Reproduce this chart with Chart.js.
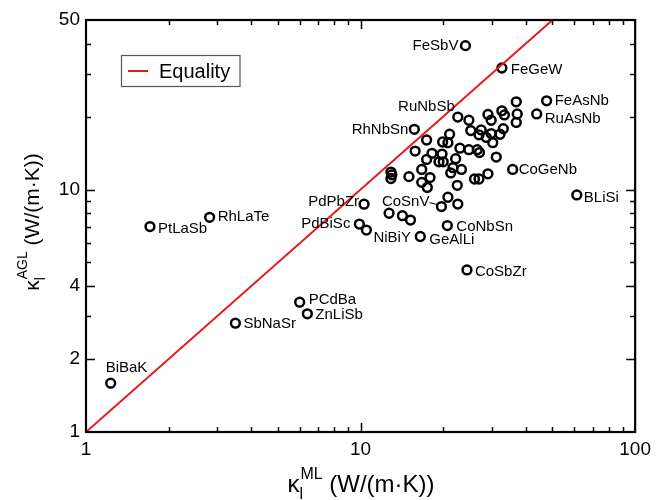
<!DOCTYPE html>
<html>
<head>
<meta charset="utf-8">
<script src="https://cdn.jsdelivr.net/npm/chart.js@4.4.0/dist/chart.umd.min.js"></script>
<style>
  html, body { margin: 0; padding: 0; background: #fff; }
  #wrap { width: 657px; height: 500px; }
</style>
</head>
<body>
<div id="wrap"><canvas id="chart" width="657" height="500"></canvas></div>
<script>
// Labelled compounds: kappa_l from ML (x) and from AGL (y), W/(m.K)
const labelNames = ['FeSbV', 'FeGeW', 'FeAsNb', 'RuAsNb', 'RuNbSb', 'RhNbSn', 'CoGeNb', 'BLiSi', 'CoSnV', 'PdPbZr', 'PdBiSc',
    'NiBiY', 'CoNbSn', 'GeAlLi', 'CoSbZr', 'PCdBa', 'ZnLiSb', 'SbNaSr', 'PtLaSb', 'RhLaTe', 'BiBaK'];
const labelML = [24.1, 32.7, 47.6, 43.8, 22.6, 15.7, 35.8, 61.3, 19.7, 10.3, 9.9,
    10.5, 20.7, 16.5, 24.4, 6.0, 6.4, 3.5, 1.71, 2.82, 1.23];
const labelAGL = [39.2, 31.7, 23.2, 20.5, 19.9, 17.7, 12.1, 9.5, 8.5, 8.7, 7.2,
    6.8, 7.1, 6.4, 4.66, 3.43, 3.07, 2.81, 7.03, 7.68, 1.59];

// Unlabelled compounds
const otherML = [36.9, 29.1, 32.7, 33.4, 37.2, 36.9, 24.8, 29.9, 33.1, 25.2, 27.5, 27.0, 29.9, 32.2, 28.7, 30.3,
    21.1, 17.4, 19.9, 20.8, 15.8, 18.2, 19.8, 23.0, 24.8, 26.6, 27.1, 31.2, 17.4, 19.3, 20.0, 22.2,
    21.7, 23.3, 21.3, 16.7, 12.9, 13.0, 12.9, 15.0, 17.9, 16.7, 17.5, 22.5, 26.0, 27.0, 29.1,
    20.8, 22.6, 12.7, 14.2, 15.2];
const otherAGL = [23.0, 20.4, 21.1, 20.3, 20.5, 18.9, 19.3, 19.3, 17.8, 17.5, 17.6, 16.8, 17.0, 16.9, 16.4, 15.6,
    16.9, 16.0, 15.7, 15.6, 14.4, 14.1, 14.0, 14.8, 14.6, 14.6, 14.2, 13.6, 13.3, 13.0, 13.0, 13.4,
    12.3, 12.1, 11.7, 12.1, 11.8, 11.5, 11.1, 11.3, 11.2, 10.7, 10.2, 10.4, 11.05, 11.05, 11.6,
    9.29, 8.71, 7.98, 7.80, 7.48];

// Equality line end points
const equalityLine = [1, 50];

// Axis ticks
const xTicks = [1, 2, 3, 4, 5, 6, 7, 8, 9, 10, 20, 30, 40, 50, 60, 70, 80, 90, 100];
const xTickLabels = [1, 10, 100];
const yTicks = [1, 2, 3, 4, 5, 6, 7, 8, 9, 10, 20, 30, 40, 50];
const yTickLabels = [1, 2, 4, 10, 50];

// where each label sits relative to its marker: [dx, dy, align]
const labelPlacement = {
    FeSbV: [-7, 0, 'right'], FeGeW: [9, 2, 'left'], FeAsNb: [8, 0, 'left'], RuAsNb: [8, 5, 'left'],
    RuNbSb: [-3, -10, 'right'], RhNbSn: [-6, 0, 'right'], CoGeNb: [6, 0, 'left'], BLiSi: [7, 3, 'left'],
    CoSnV: [-12, -5, 'right'], PdPbZr: [-5, -2, 'right'], PdBiSc: [-9, 0, 'right'], NiBiY: [7, 8, 'left'],
    CoNbSn: [9, 1, 'left'], GeAlLi: [9, 3, 'left'], CoSbZr: [8, 2, 'left'], PCdBa: [9, -2, 'left'],
    ZnLiSb: [8, 1, 'left'], SbNaSr: [8, 1, 'left'], PtLaSb: [8, 2, 'left'], RhLaTe: [8, 0, 'left'],
    BiBaK: [-5, -15, 'left']
};

const FONT = '"Liberation Sans", Arial, Helvetica, sans-serif';
const RED = '#e8191e';

const points = labelML.map((v, i) => ({ x: v, y: labelAGL[i], name: labelNames[i] }))
    .concat(otherML.map((v, i) => ({ x: v, y: otherAGL[i], name: '' })));

// marker labels
const labelPlugin = {
    id: 'pointLabels',
    afterDatasetsDraw(chart) {
        const { ctx } = chart;
        const meta = chart.getDatasetMeta(1);
        ctx.save();
        ctx.font = '15px ' + FONT;
        ctx.fillStyle = '#000';
        ctx.textBaseline = 'middle';
        meta.data.forEach((el, i) => {
            const name = points[i].name;
            if (!name) return;
            const [dx, dy, align] = labelPlacement[name];
            ctx.textAlign = align;
            ctx.fillText(name, el.x + dx, el.y + dy);
            if (name === 'CoSnV') {
                ctx.strokeStyle = '#000';
                ctx.lineWidth = 1;
                ctx.beginPath();
                ctx.moveTo(el.x + dx, el.y + dy + 1);
                ctx.lineTo(el.x - 4, el.y - 2);
                ctx.stroke();
            }
        });
        ctx.restore();
    }
};

// frame, inward ticks, legend and axis titles
const framePlugin = {
    id: 'frame',
    afterDraw(chart) {
        const { ctx, chartArea: a, scales: { x, y } } = chart;
        ctx.save();
        ctx.strokeStyle = '#000';
        ctx.lineWidth = 1.5;
        ctx.beginPath();
        xTicks.forEach(v => {
            if (v === 1 || v === 100) return;
            const px = Math.round(x.getPixelForValue(v)) + 0.5;
            const len = xTickLabels.includes(v) ? 9 : 5;
            ctx.moveTo(px, a.bottom); ctx.lineTo(px, a.bottom - len);
            ctx.moveTo(px, a.top); ctx.lineTo(px, a.top + len);
        });
        yTicks.forEach(v => {
            if (v === 1 || v === 50) return;
            const py = Math.round(y.getPixelForValue(v)) + 0.5;
            const len = yTickLabels.includes(v) ? 9 : 5;
            ctx.moveTo(a.left, py); ctx.lineTo(a.left + len, py);
            ctx.moveTo(a.right, py); ctx.lineTo(a.right - len, py);
        });
        ctx.stroke();
        ctx.lineWidth = 2.2;
        ctx.strokeRect(a.left, a.top, a.right - a.left, a.bottom - a.top);

        // legend
        ctx.lineWidth = 1.2;
        ctx.strokeStyle = '#555';
        ctx.strokeRect(121.5, 55.5, 118.5, 31);
        ctx.strokeStyle = RED;
        ctx.lineWidth = 2;
        ctx.beginPath();
        ctx.moveTo(128, 71); ctx.lineTo(148, 71);
        ctx.stroke();
        ctx.fillStyle = '#000';
        ctx.font = '20px ' + FONT;
        ctx.textBaseline = 'middle';
        ctx.textAlign = 'left';
        ctx.fillText(chart.data.datasets[0].label, 159, 72);

        // axis titles
        drawKappaTitle(ctx, 'ML', 361, 492, 24, 0);
        drawKappaTitle(ctx, 'AGL', 39, 222, 21, -Math.PI / 2);
        ctx.restore();
    }
};

function drawKappaTitle(ctx, sup, cx, cy, size, angle) {
    const small = Math.round(size * 0.68);
    ctx.save();
    ctx.translate(cx, cy);
    ctx.rotate(angle);
    ctx.textBaseline = 'alphabetic';
    ctx.textAlign = 'left';
    ctx.font = size + 'px ' + FONT;
    const wK = ctx.measureText('\u03ba').width;
    const rest = ' (W/(m\u00b7K))';
    const wRest = ctx.measureText(rest).width;
    ctx.font = small + 'px ' + FONT;
    const wSup = ctx.measureText(sup).width;
    const total = wK + 1 + wSup + wRest;
    let x0 = -total / 2;
    ctx.fillStyle = '#000';
    ctx.font = size + 'px ' + FONT;
    ctx.fillText('\u03ba', x0, 0);
    ctx.font = small + 'px ' + FONT;
    ctx.fillText(sup, x0 + wK + 1, -size * 0.55);
    ctx.fillText('l', x0 + wK, size * 0.3);
    ctx.font = size + 'px ' + FONT;
    ctx.fillText(rest, x0 + wK + 1 + wSup, 0);
    ctx.restore();
}

const ctx = document.getElementById('chart').getContext('2d');
new Chart(ctx, {
    type: 'scatter',
    data: {
        datasets: [
            {
                type: 'line',
                label: 'Equality',
                data: equalityLine.map(v => ({ x: v, y: v })),
                borderColor: RED,
                borderWidth: 2,
                pointRadius: 0,
                fill: false
            },
            {
                label: 'compounds',
                data: points,
                pointRadius: 4.4,
                pointBorderWidth: 2.5,
                borderColor: '#000',
                backgroundColor: 'rgba(0,0,0,0)'
            }
        ]
    },
    options: {
        responsive: false,
        animation: false,
        devicePixelRatio: 1,
        layout: { padding: { left: 0, right: 19, top: 20, bottom: 0 } },
        plugins: { legend: { display: false }, tooltip: { enabled: false } },
        scales: {
            x: {
                type: 'logarithmic',
                min: 1,
                max: 100,
                grid: { display: false, drawTicks: false },
                border: { display: false },
                afterBuildTicks: s => { s.ticks = xTicks.map(v => ({ value: v })); },
                afterFit: s => { s.height = 68; },
                ticks: {
                    autoSkip: false,
                    maxRotation: 0,
                    padding: 6,
                    color: '#000',
                    font: { family: FONT, size: 19 },
                    callback: v => xTickLabels.includes(v) ? String(v) : ''
                }
            },
            y: {
                type: 'logarithmic',
                min: 1,
                max: 50,
                grid: { display: false, drawTicks: false },
                border: { display: false },
                afterBuildTicks: s => { s.ticks = yTicks.map(v => ({ value: v })); },
                afterFit: s => { s.width = 86; },
                ticks: {
                    autoSkip: false,
                    padding: 6,
                    color: '#000',
                    font: { family: FONT, size: 19 },
                    callback: v => yTickLabels.includes(v) ? String(v) : ''
                }
            }
        }
    },
    plugins: [labelPlugin, framePlugin]
});
</script>
</body>
</html>
